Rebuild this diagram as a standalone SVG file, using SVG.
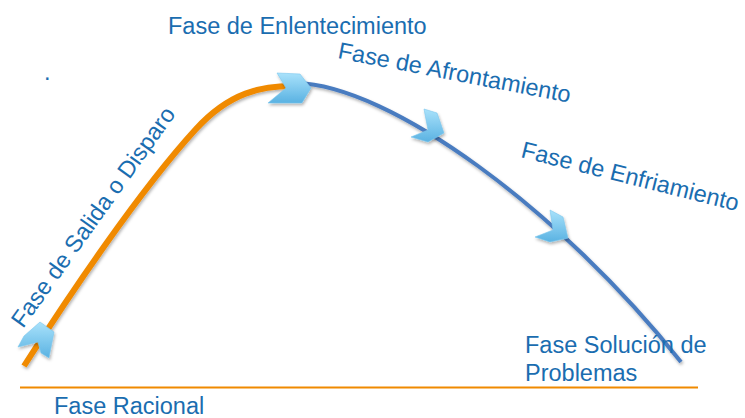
<svg xmlns="http://www.w3.org/2000/svg" width="745" height="418" viewBox="0 0 745 418">
  <defs>
    <style>
      .lbl { font-family: "Liberation Sans", Arial, sans-serif; font-size: 23.5px; fill: #1A6DB0; }
      .chev { fill: url(#chevGrad); stroke: #7CC8EE; stroke-width: 0.6; filter: url(#shadow); }
      .orange { fill: none; stroke: #F08A00; stroke-width: 6; filter: url(#shadow); }
      .blue { fill: none; stroke: #4A7CC0; stroke-width: 4; filter: url(#shadow); }
    </style>
    <linearGradient id="chevGrad" x1="0" y1="0" x2="0" y2="1">
      <stop offset="0" stop-color="#A9E2FB"/>
      <stop offset="1" stop-color="#5AB2E2"/>
    </linearGradient>
    <filter id="shadow" x="-20%" y="-20%" width="140%" height="140%">
      <feDropShadow dx="1" dy="2" stdDeviation="1.5" flood-color="#000" flood-opacity="0.3"/>
    </filter>
  </defs>

  <rect width="745" height="418" fill="#ffffff"/>

  <g id="connectors">
    <path id="baseline" d="M20,387.5 L698,387.5" stroke="#F08A00" stroke-width="2" fill="none"/>
    <path id="rise" class="orange" d="M24,366 C68,297 140,190 196,129 C230,92 262,86 292,86"/>
    <path id="fall" class="blue" d="M296,83 C390,85 560,210 681,362"/>
  </g>

  <g id="dot">
    <text class="lbl" x="44" y="80" font-size="18">.</text>
  </g>

  <g id="fase-salida">
    <polygon class="chev" points="40,322 54,332 49,358 41,353 38,342 18,347 24,336"/>
    <text class="lbl" transform="translate(23,329) rotate(-54.5)">Fase de Salida o Disparo</text>
  </g>

  <g id="fase-enlentecimiento">
    <polygon class="chev" points="311,88 300,74 277,73 286,88 268,103 302,103"/>
    <text class="lbl" x="168" y="34">Fase de Enlentecimiento</text>
  </g>

  <g id="fase-afrontamiento">
    <polygon class="chev" points="444,133 437,113 424,109 428,130 411,137 428,142"/>
    <text class="lbl" transform="translate(337,58) rotate(10.9)">Fase de Afrontamiento</text>
  </g>

  <g id="fase-enfriamiento">
    <polygon class="chev" points="568,238 563,217 550,210 553,230 535,237 550,242"/>
    <text class="lbl" transform="translate(520,157) rotate(14)">Fase de Enfriamiento</text>
  </g>

  <g id="fase-solucion">
    <text class="lbl" x="525" y="353">Fase Solución de</text>
    <text class="lbl" x="525" y="381">Problemas</text>
  </g>

  <g id="fase-racional">
    <text class="lbl" x="54" y="414">Fase Racional</text>
  </g>
</svg>
